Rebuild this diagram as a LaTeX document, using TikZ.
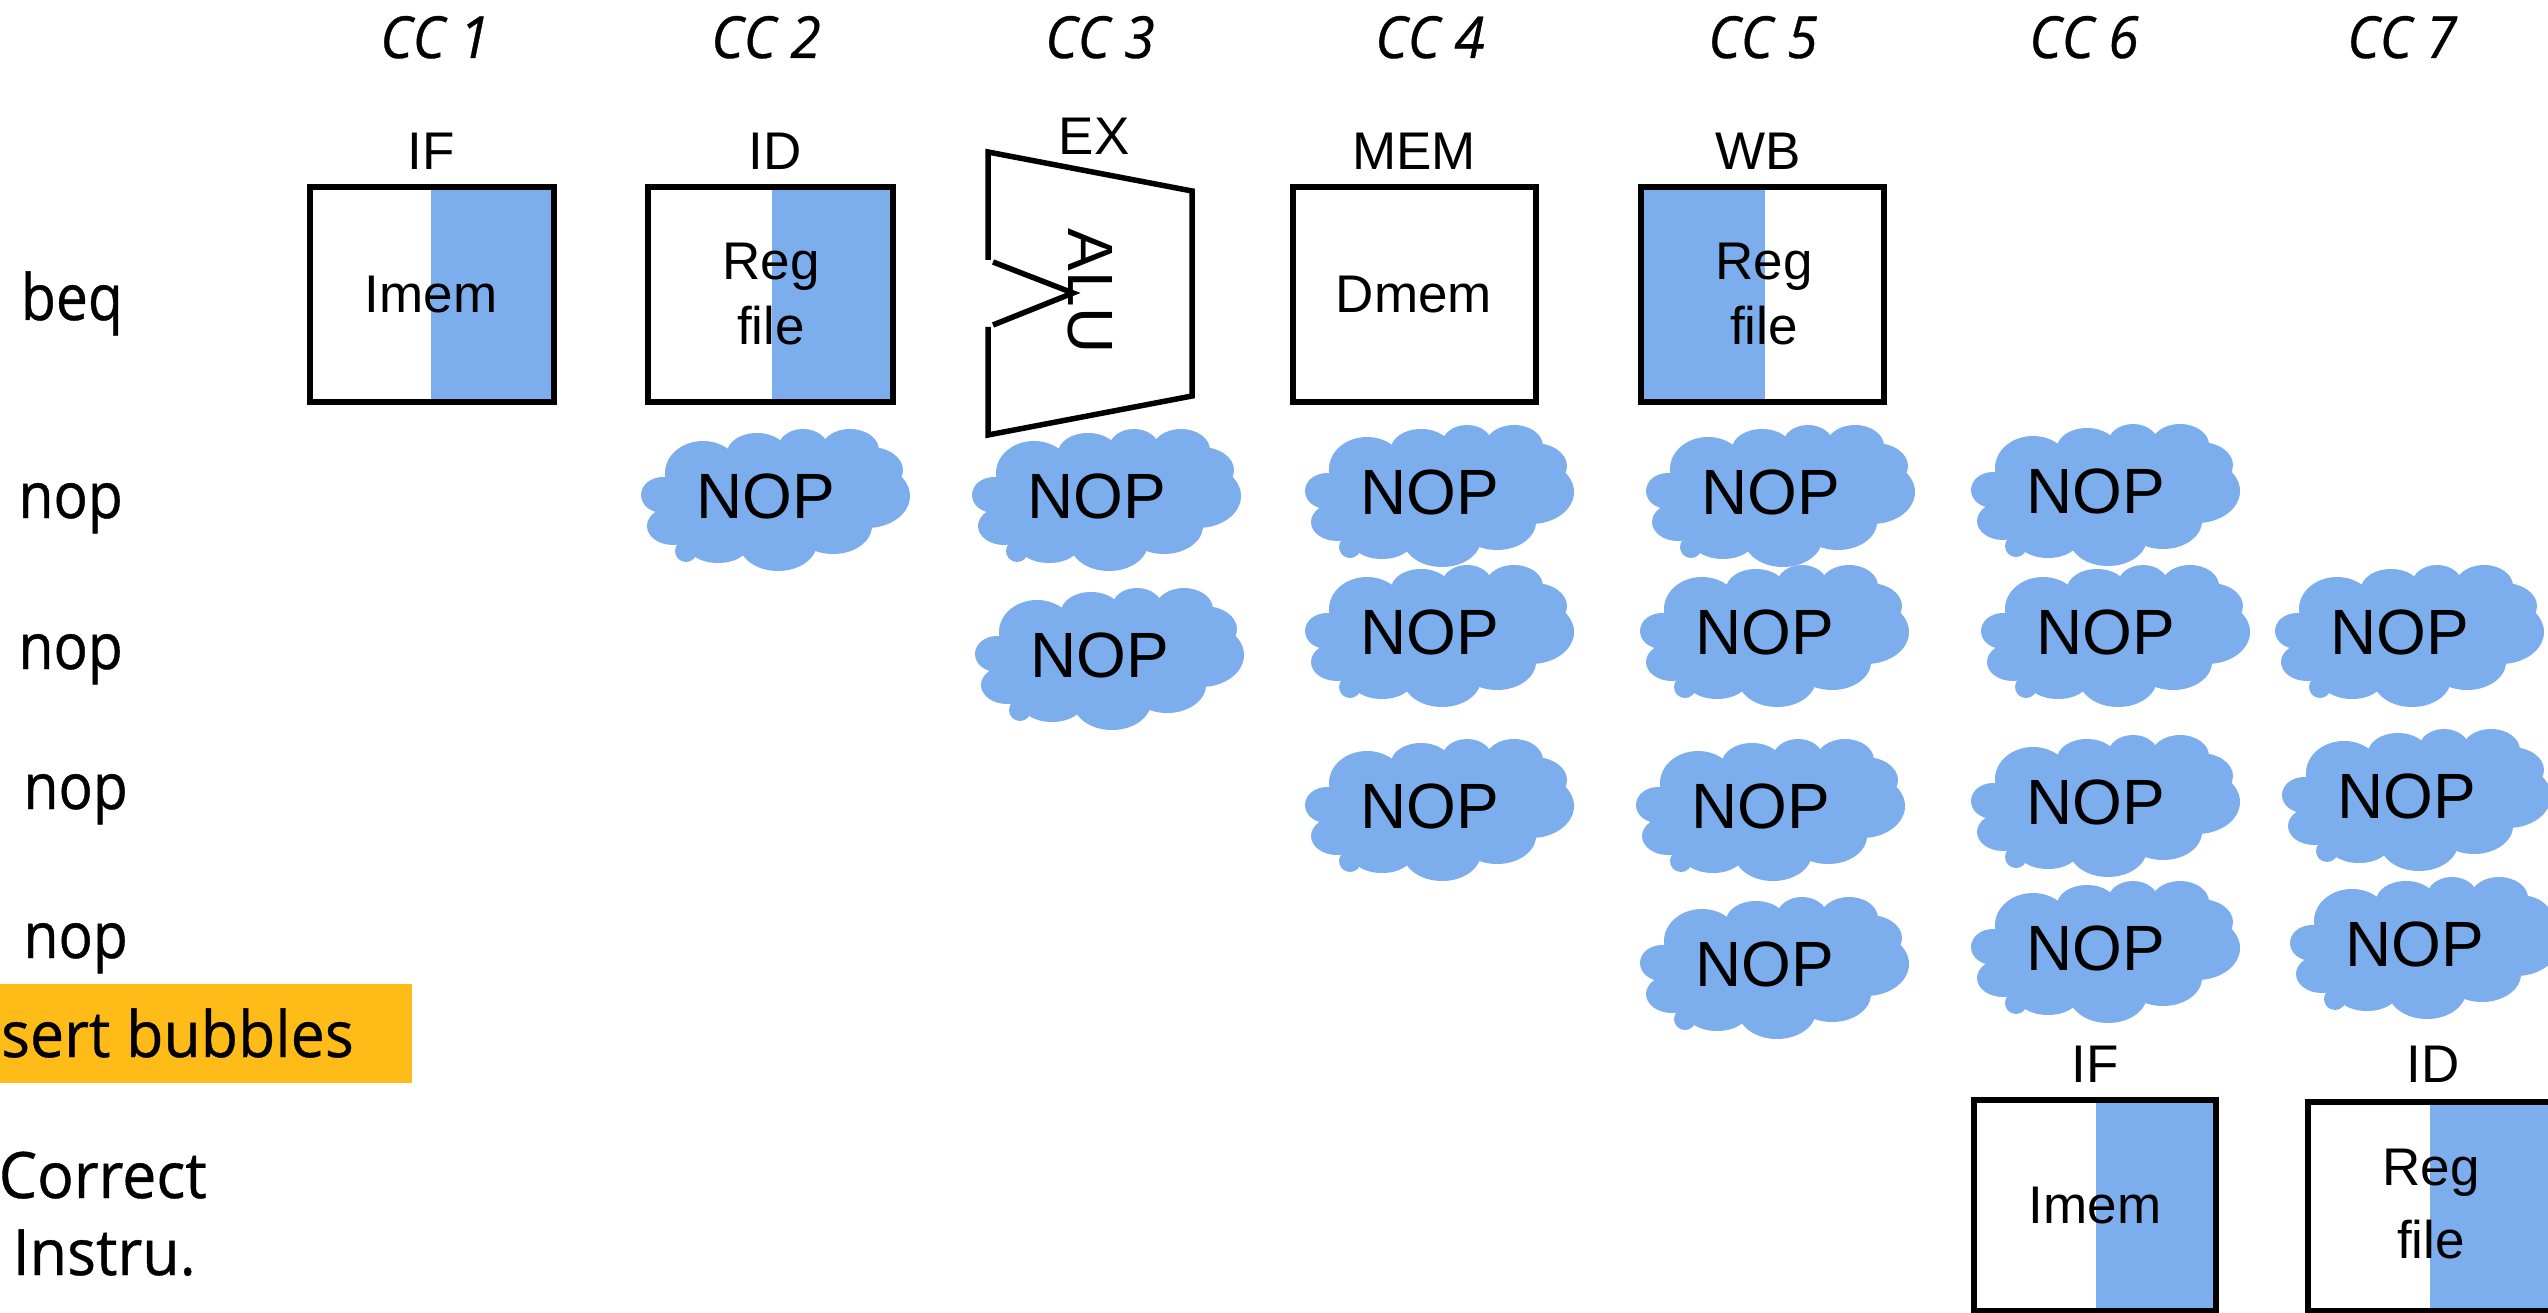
\documentclass[tikz,border=0pt]{standalone}
\usepackage{fontspec}
\setmainfont{Liberation Sans}
\newfontfamily\handfont[FakeStretch=0.95,FakeBold=0.6]{Open Sans}
\newfontfamily\handshort[FakeStretch=0.89,FakeBold=0.6]{Open Sans}
\newfontfamily\handital[FakeStretch=0.95,FakeBold=0.6,UprightFont=*-Italic]{Open Sans}
\definecolor{cloudblue}{HTML}{7CADEC}
\definecolor{bubbleorange}{HTML}{FFBB18}
\tikzset{
  x=1pt,y=-1pt,
  boxline/.style={draw=black,line width=5.5pt,fill=none,miter limit=10},
  halffill/.style={fill=cloudblue,draw=none},
  unitlabel/.style={inner sep=0pt,font=\fontsize{53}{60}\selectfont,align=center},
  stagelabel/.style={inner sep=0pt,anchor=center,font=\fontsize{53}{60}\selectfont},
  noplabel/.style={inner sep=0pt,font=\fontsize{64}{66}\selectfont},
  alulabel/.style={inner sep=0pt,rotate=-90,font=\fontsize{64}{70}\selectfont},
  cclabel/.style={inner sep=0pt,anchor=base,font=\handital\fontsize{58}{60}\selectfont},
  rowlabel/.style={inner sep=0pt,anchor=base east,font=\handfont\fontsize{64}{70}\selectfont},
  shortlabel/.style={inner sep=0pt,anchor=base east,font=\handshort\fontsize{64}{70}\selectfont},
}
\newcommand{\nopcloud}[3]{%
  \begin{scope}[shift={(#2,#3)}]
    \foreach \cx/\cy/\rx/\ry in {-103/-1/22/18,-93/30/26/19,-80/55/11/11,-48/50/30/17,12/47/39/28,67/30/39/28,101/0/43/32,104/-26/33/23,84/-46/29/21,37/-48/25/19,-9/-43/30/20,-63/-23/38/32,4/4/100/50}
      {\fill[cloudblue] (\cx,\cy) ellipse[x radius=\rx,y radius=\ry];}
    \node[noplabel] (#1) at (0,0) {NOP};
  \end{scope}}
\newcommand{\stagebox}[5]{%
  \fill[halffill] #5;
  \draw[boxline] (#1,#2) rectangle (#3,#4);}
\begin{document}
\begin{tikzpicture}
\useasboundingbox (0,0) rectangle (2548,1313);
% clock cycle headers
\node[cclabel] (cc1) at (435,58) {CC 1};
\node[cclabel] (cc2) at (766,58) {CC 2};
\node[cclabel] (cc3) at (1100,58) {CC 3};
\node[cclabel] (cc4) at (1430,58) {CC 4};
\node[cclabel] (cc5) at (1763,58) {CC 5};
\node[cclabel] (cc6) at (2084,58) {CC 6};
\node[cclabel] (cc7) at (2402,58) {CC 7};
% row labels
\node[shortlabel] (beq) at (123,320) {beq};
\node[shortlabel] (nopa) at (123,518) {nop};
\node[shortlabel] (nopb) at (123,669) {nop};
\node[shortlabel] (nopc) at (128,809) {nop};
\node[shortlabel] (nopd) at (128,958) {nop};
\fill[bubbleorange] (0,984) rectangle (412,1083);
\node[rowlabel] (insert) at (354,1057) {Insert bubbles};
\node[rowlabel] (correct) at (207,1198) {Correct};
\node[rowlabel] (instru) at (196,1275) {Instru.};
% stage boxes
\stagebox{310}{187}{554}{402}{(431,187) rectangle (554,402)}
\node[unitlabel] (imema) at (431,295) {Imem};
\node[stagelabel] (ifa) at (431,151) {IF};
\stagebox{648}{187}{893}{402}{(772,187) rectangle (893,402)}
\node[unitlabel] (rega) at (771,267) {Reg};
\node[unitlabel] (filea) at (771,326) {file};
\node[stagelabel] (ida) at (775,151) {ID};
% ALU
\draw[line width=5.5pt,miter limit=10] (988,260) -- (988,152) -- (1192,191) -- (1192,396) -- (988,435) -- (988,327);
\draw[line width=5.5pt] (993,262) -- (1073,293) -- (993,325);
\node[alulabel] (alu) at (1090,291) {ALU};
\node[stagelabel] (ex) at (1094,136) {EX};
\stagebox{1293}{187}{1536}{402}{(1293,187) rectangle (1293,402)}
\node[unitlabel] (dmem) at (1414,295) {Dmem};
\node[stagelabel] (mem) at (1414,151) {MEM};
\stagebox{1641}{187}{1884}{402}{(1641,187) rectangle (1765,402)}
\node[unitlabel] (regb) at (1764,267) {Reg};
\node[unitlabel] (fileb) at (1764,326) {file};
\node[stagelabel] (wb) at (1758,151) {WB};
% NOP clouds
\nopcloud{na}{766}{496}
\nopcloud{nb}{1097}{496}
\nopcloud{nc}{1100}{655}
\nopcloud{nd}{1430}{492}
\nopcloud{ne}{1430}{632}
\nopcloud{nf}{1430}{806}
\nopcloud{ng}{1771}{492}
\nopcloud{nh}{1765}{632}
\nopcloud{ni}{1761}{806}
\nopcloud{nj}{1765}{964}
\nopcloud{nk}{2096}{491}
\nopcloud{nl}{2106}{632}
\nopcloud{nm}{2096}{802}
\nopcloud{nn}{2096}{948}
\nopcloud{no}{2400}{632}
\nopcloud{np}{2407}{796}
\nopcloud{nq}{2415}{944}
% corrected instruction
\stagebox{1974}{1100}{2216}{1311}{(2096,1100) rectangle (2216,1311)}
\node[unitlabel] (imemb) at (2095,1206) {Imem};
\node[stagelabel] (ifb) at (2095,1064) {IF};
\stagebox{2308}{1102}{2560}{1311}{(2430,1102) rectangle (2560,1311)}
\node[unitlabel] (regc) at (2431,1173) {Reg};
\node[unitlabel] (filec) at (2431,1240) {file};
\node[stagelabel] (idb) at (2433,1064) {ID};
\end{tikzpicture}
\end{document}
